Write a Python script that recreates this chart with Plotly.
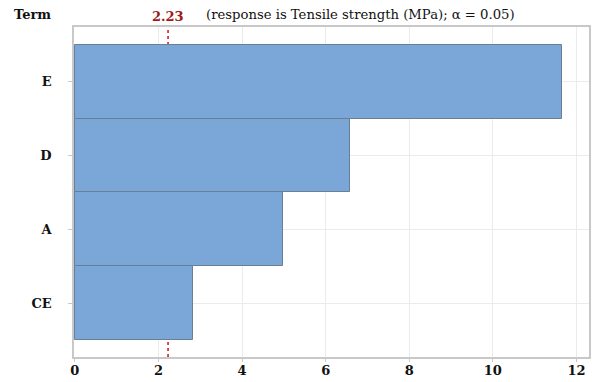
import plotly.graph_objects as go

terms = ["E", "D", "A", "CE"]
effects = [11.65, 6.58, 4.98, 2.82]
threshold = 2.23
x_ticks = [0, 2, 4, 6, 8, 10, 12]

SERIF = "DejaVu Serif"

fig = go.Figure()
fig.add_trace(go.Bar(
    x=effects, y=terms, orientation="h",
    marker=dict(color="#7BA6D8", line=dict(color="#6A7E94", width=1)),
    width=1.0,
))

fig.add_shape(type="line", xref="x", yref="paper", x0=threshold, x1=threshold, y0=0, y1=1,
              line=dict(color="#D42020", width=1.6, dash="dot"), layer="below")

fig.add_annotation(x=threshold, xref="x", y=1.0, yref="paper", yanchor="bottom", yshift=1,
                   text="<b>%.2f</b>" % threshold, showarrow=False,
                   font=dict(family=SERIF, size=13, color="#A01818"))
fig.add_annotation(x=-0.08, xref="paper", xanchor="center", y=1.0, yref="paper", yanchor="bottom", yshift=3,
                   text="<b>Term</b>", showarrow=False,
                   font=dict(family=SERIF, size=13, color="#111111"))
fig.add_annotation(x=0.252, xref="paper", xanchor="left", y=1.0, yref="paper", yanchor="bottom", yshift=3,
                   text="(response is Tensile strength (MPa); α = 0.05)", showarrow=False,
                   font=dict(family=SERIF, size=13.2, color="#111111"))

fig.update_layout(
    width=592, height=382,
    margin=dict(l=74, r=3, t=27, b=25, autoexpand=False),
    paper_bgcolor="white", plot_bgcolor="white",
    showlegend=False, bargap=0,
    font=dict(family=SERIF, color="#111111"),
)
fig.update_xaxes(
    range=[-0.02, 12.3], tickvals=x_ticks, ticktext=[str(v) for v in x_ticks],
    showgrid=True, gridcolor="#EBEBEB", gridwidth=1,
    showline=True, linecolor="#C8C8C8", linewidth=1.5, mirror=True,
    ticks="outside", ticklen=3, tickcolor="#C8C8C8",
    ticklabelstandoff=-2,
    tickfont=dict(family=SERIF, size=13, color="#111111", weight="bold"),
    zeroline=False, automargin=False,
)
fig.update_yaxes(
    categoryorder="array", categoryarray=terms,
    range=[3.73, -0.74],
    showgrid=True, gridcolor="#EBEBEB", gridwidth=1,
    showline=True, linecolor="#C8C8C8", linewidth=1.5, mirror=True,
    ticks="outside", ticklen=4, tickcolor="#C8C8C8",
    ticklabelstandoff=14, automargin=False,
    tickfont=dict(family=SERIF, size=13, color="#111111", weight="bold"),
)

fig.write_html("out.html")
